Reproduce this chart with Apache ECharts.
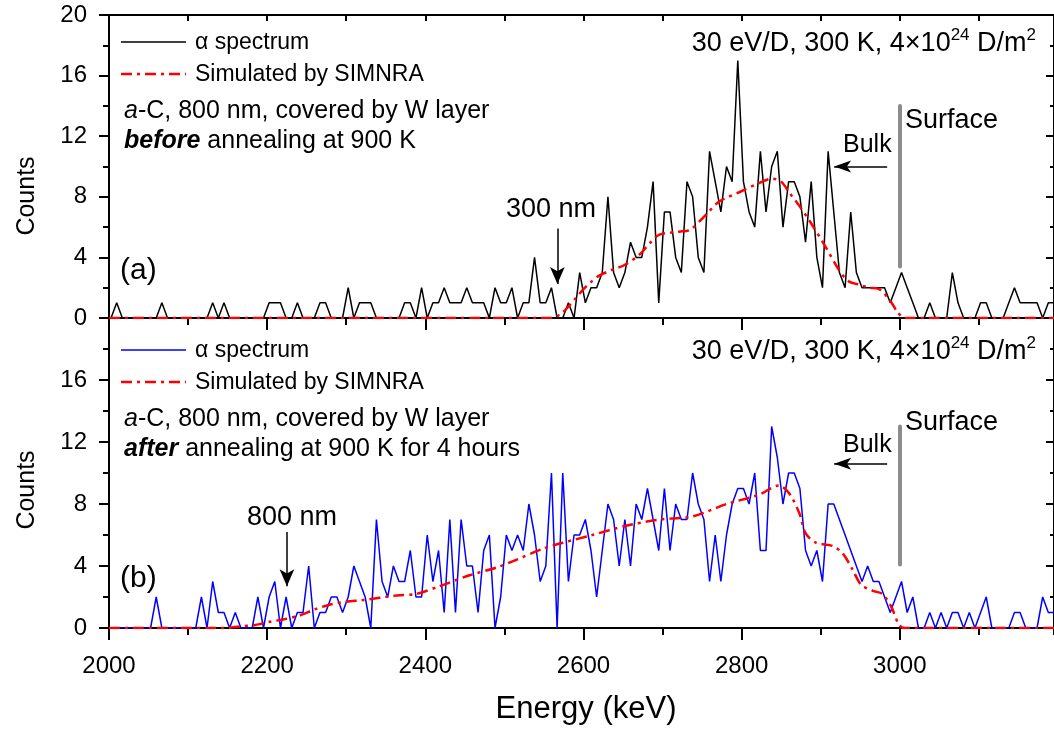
<!DOCTYPE html>
<html>
<head>
<meta charset="utf-8">
<script src="https://cdn.jsdelivr.net/npm/echarts@6/dist/echarts.min.js"></script>
<style>
  html, body { margin: 0; background: #fff; }
  #chart { width: 1054px; height: 731px; }
</style>
</head>
<body>
<div id="chart"></div>
<script>
// spectrum calibration: energy of channel i = channelStart + i * channelWidth (keV)
const channelStart = 2002.6
const channelWidth = 7.14

// (a) before annealing, counts per channel
const countsBefore = [
  0, 1, 0, 0, 0, 0, 0, 0, 0, 1,
  0, 0, 0, 0, 0, 0, 0, 0, 1, 0,
  1, 0, 0, 0, 0, 0, 0, 0, 1, 1,
  1, 0, 0, 1, 0, 0, 0, 1, 1, 0,
  0, 0, 2, 0, 1, 1, 1, 0, 0, 0,
  0, 0, 1, 1, 0, 2, 0, 1, 1, 2,
  1, 1, 1, 2, 1, 1, 1, 0, 2, 1,
  1, 2, 0, 1, 1, 4, 1, 1, 2, 0,
  0, 1, 0, 3, 1, 2, 2, 3, 8, 3,
  2, 3, 5, 4, 4, 6, 9, 1, 7, 7,
  4, 3, 9, 8, 4, 3, 11, 9, 7, 10,
  9, 17, 9, 7, 6, 11, 7, 10, 11, 6,
  9, 9, 8, 5, 9, 4, 2, 11, 7, 3,
  2, 7, 3, 2, 2, 2, 2, 2, 1, 2,
  3, 2, 1, 0, 0, 1, 0, 0, 0, 3,
  1, 0, 0, 0, 1, 1, 0, 0, 0, 1,
  2, 1, 1, 1, 1, 0, 1, 1
]

// (b) after annealing, counts per channel
const countsAfter = [
  0, 0, 0, 0, 0, 0, 0, 0, 2, 0,
  0, 0, 0, 0, 0, 0, 2, 0, 3, 1,
  1, 0, 1, 0, 0, 0, 2, 0, 2, 3,
  0, 2, 0, 1, 1, 4, 0, 1, 1, 2,
  2, 1, 2, 4, 3, 2, 0, 7, 3, 2,
  4, 3, 3, 5, 2, 2, 6, 3, 5, 1,
  7, 1, 7, 4, 4, 1, 5, 6, 0, 2,
  6, 5, 6, 5, 8, 6, 3, 4, 10, 0,
  10, 3, 6, 6, 7, 5, 2, 5, 8, 7,
  4, 7, 4, 8, 7, 9, 7, 5, 9, 5,
  8, 7, 7, 10, 8, 7, 3, 6, 3, 6,
  8, 9, 9, 8, 10, 5, 5, 13, 11, 8,
  10, 10, 9, 5, 4, 5, 3, 8, 8, 7,
  6, 5, 4, 3, 4, 3, 3, 2, 1, 2,
  3, 1, 2, 0, 0, 1, 0, 1, 0, 1,
  1, 0, 1, 0, 1, 2, 0, 0, 0, 0,
  1, 1, 0, 0, 0, 2, 1, 1
]

// SIMNRA simulations
const simBeforeEnergy = [2000, 2560, 2572, 2580, 2590, 2600, 2610, 2620, 2637, 2652, 2671, 2685, 2696, 2721, 2734, 2747, 2760, 2772, 2797, 2822, 2839, 2850, 2860, 2873, 2886, 2905, 2924, 2936, 2949, 2961, 2974, 2987, 2997, 3006, 3195]
const simBeforeCounts = [0, 0, 0.3, 0.7, 1.3, 1.9, 2.4, 2.8, 3.2, 3.5, 4.2, 5.0, 5.5, 5.7, 5.8, 6.4, 7.1, 7.7, 8.3, 8.9, 9.2, 9.0, 8.3, 7.4, 6.4, 4.8, 3.1, 2.4, 2.2, 2.0, 1.9, 1.2, 0.4, 0, 0]
const simAfterEnergy = [2000, 2150, 2165, 2185, 2203, 2220, 2241, 2260, 2279, 2300, 2321, 2364, 2389, 2418, 2456, 2490, 2515, 2548, 2574, 2611, 2654, 2696, 2738, 2781, 2822, 2847, 2860, 2873, 2881, 2894, 2915, 2928, 2940, 2951, 2966, 2978, 2989, 2999, 3006, 3195]
const simAfterCounts = [0, 0, 0.1, 0.2, 0.4, 0.55, 0.8, 1.2, 1.5, 1.7, 1.8, 2.1, 2.2, 2.7, 3.4, 3.9, 4.4, 5.1, 5.5, 6.0, 6.6, 7.0, 7.2, 8.0, 8.6, 9.2, 8.7, 7.4, 6.1, 5.5, 5.3, 4.8, 3.8, 2.8, 2.4, 2.2, 1.4, 0.2, 0, 0]

const energyMin = 2000
const energyMax = 3195
const countsMax = 20

const FONT = '"Liberation Sans", Arial, Helvetica, sans-serif'

function spectrum(counts) {
  return counts.map((c, i) => [channelStart + i * channelWidth, c])
}
function pairs(xs, ys) {
  return xs.map((x, i) => [x, ys[i]])
}

function txt(x, y, text, size, extra) {
  return {
    type: 'text',
    x: x,
    y: y,
    silent: true,
    style: Object.assign({
      text: text,
      fontSize: size,
      fontFamily: FONT,
      fill: '#000',
      verticalAlign: 'middle'
    }, extra || {})
  }
}

function richTok(size, style, weight) {
  return { fontSize: size, fontFamily: FONT, fontStyle: style || 'normal', fontWeight: weight || 'normal', fill: '#000' }
}

function richSet(size) {
  return {
    i: richTok(size, 'italic'),
    bi: richTok(size, 'italic', 'bold'),
    sup: Object.assign(richTok(Math.round(size * 0.63)), { verticalAlign: 'top' })
  }
}

function legendLine(y, color, dash) {
  return {
    type: 'line',
    silent: true,
    shape: { x1: 121, y1: y, x2: 186, y2: y },
    style: { stroke: color, lineWidth: dash ? 2.5 : 1.5, lineDash: dash || null }
  }
}

const redDash = [11, 5, 3, 5]

function panelText(dy, p) {
  return [
    legendLine(42 + dy, p.lineColor),
    txt(195, 43 + dy, 'α spectrum', 23),
    legendLine(74 + dy, '#ff0000', redDash),
    txt(195, 75 + dy, 'Simulated by SIMNRA', 23),
    txt(124, 111 + dy, '{i|a}-C, 800 nm, covered by W layer', 25, { rich: richSet(25) }),
    txt(124, 141 + dy, '{bi|' + p.stateWord + '} ' + p.stateRest, 25, { rich: richSet(25) }),
    txt(1036, 44 + dy, '30 eV/D, 300 K, 4×10{sup|24} D/m{sup|2}', 27, { rich: richSet(27), align: 'right', lineHeight: 35 }),
    txt(905, p.surfaceY, 'Surface', 27),
    txt(843, p.bulkY, 'Bulk', 25),
    txt(p.arrowLabelX, 210 + dy, p.arrowLabel, 27, { align: 'center' }),
    txt(120, 271 + dy, p.tag, 30)
  ]
}

function arrow(x1, y1, x2, y2, size) {
  return [
    { coord: [x1, y1], symbol: 'none' },
    { coord: [x2, y2], symbol: 'arrow', symbolSize: size }
  ]
}

const axisBlack = { lineStyle: { color: '#000', width: 2 } }

function xAxisFor(grid, position, interval, tickLen, inside, showLabel, showLine) {
  return {
    type: 'value',
    gridIndex: grid,
    position: position,
    min: energyMin,
    max: energyMax,
    interval: interval,
    axisLine: Object.assign({ show: showLine, onZero: false }, axisBlack),
    axisTick: { show: true, inside: inside, length: tickLen, lineStyle: { color: '#000', width: 2 } },
    axisLabel: {
      show: showLabel, showMaxLabel: false, color: '#000', fontSize: 24, fontFamily: FONT, margin: 26,
      formatter: v => String(v)
    },
    splitLine: { show: false }
  }
}

function yAxisFor(grid, position, showLabel, showMax) {
  const left = position === 'left'
  return {
    type: 'value',
    gridIndex: grid,
    position: position,
    min: 0,
    max: countsMax,
    interval: 4,
    axisLine: Object.assign({ show: true, onZero: false }, axisBlack),
    axisTick: { show: true, inside: !left, length: left ? 10 : 8, lineStyle: { color: '#000', width: 2 } },
    minorTick: { show: true, splitNumber: 2, length: left ? 6 : 4, lineStyle: { color: '#000', width: 2 } },
    axisLabel: {
      show: showLabel, showMaxLabel: showMax, color: '#000', fontSize: 24, fontFamily: FONT, margin: 22,
      formatter: v => String(v)
    },
    splitLine: { show: false }
  }
}

const chart = echarts.init(document.getElementById('chart'))

chart.setOption({
  animation: false,
  backgroundColor: '#fff',
  grid: [
    { left: 109, right: -1, top: 15, height: 303 },
    { left: 109, right: -1, top: 318, height: 310 }
  ],
  xAxis: [
    xAxisFor(0, 'bottom', 200, 12, false, false, true),
    xAxisFor(0, 'bottom', 100, 7, false, false, false),
    xAxisFor(0, 'top', 100, 6, true, false, true),
    xAxisFor(1, 'bottom', 200, 12, false, true, true),
    xAxisFor(1, 'bottom', 100, 7, false, false, false)
  ],
  yAxis: [
    yAxisFor(0, 'left', true, true),
    yAxisFor(0, 'right', false, true),
    yAxisFor(1, 'left', true, false),
    yAxisFor(1, 'right', false, false)
  ],
  series: [
    {
      name: 'α spectrum (a)',
      type: 'line',
      xAxisIndex: 0,
      yAxisIndex: 0,
      data: spectrum(countsBefore),
      symbol: 'none',
      lineStyle: { color: '#000', width: 1.5 },
      silent: true,
      markLine: {
        silent: true,
        animation: false,
        label: { show: false },
        data: [
          [{ coord: [3000, 3.4], symbol: 'none', lineStyle: { color: '#8c8c8c', width: 4, cap: 'round' } },
           { coord: [3000, 14.0], symbol: 'none' }],
          arrow(2984, 10.0, 2917, 10.0, [9, 17]),
          arrow(2567, 5.9, 2567, 2.25, [11, 17])
        ],
        lineStyle: { color: '#000', width: 1.5, type: 'solid' }
      }
    },
    {
      name: 'Simulated by SIMNRA (a)',
      type: 'line',
      xAxisIndex: 0,
      yAxisIndex: 0,
      data: pairs(simBeforeEnergy, simBeforeCounts),
      symbol: 'none',
      smooth: 0.3,
      lineStyle: { color: '#ff0000', width: 2.5, type: redDash },
      silent: true
    },
    {
      name: 'α spectrum (b)',
      type: 'line',
      xAxisIndex: 3,
      yAxisIndex: 2,
      data: spectrum(countsAfter),
      symbol: 'none',
      lineStyle: { color: '#0000ff', width: 1.5 },
      silent: true,
      markLine: {
        silent: true,
        animation: false,
        label: { show: false },
        data: [
          [{ coord: [3000, 4.1], symbol: 'none', lineStyle: { color: '#8c8c8c', width: 4, cap: 'round' } },
           { coord: [3000, 13.0], symbol: 'none' }],
          arrow(2984, 10.6, 2917, 10.6, [9, 17]),
          arrow(2225, 6.2, 2225, 2.7, [11, 17])
        ],
        lineStyle: { color: '#000', width: 1.5, type: 'solid' }
      }
    },
    {
      name: 'Simulated by SIMNRA (b)',
      type: 'line',
      xAxisIndex: 3,
      yAxisIndex: 2,
      data: pairs(simAfterEnergy, simAfterCounts),
      symbol: 'none',
      smooth: 0.3,
      lineStyle: { color: '#ff0000', width: 2.5, type: redDash },
      silent: true
    }
  ],
  graphic: [].concat(
    panelText(0, {
      lineColor: '#000', stateWord: 'before', stateRest: 'annealing at 900 K',
      arrowLabel: '300 nm', arrowLabelX: 551, tag: '(a)', surfaceY: 121, bulkY: 145
    }),
    panelText(308, {
      lineColor: '#0000ff', stateWord: 'after', stateRest: 'annealing at 900 K for 4 hours',
      arrowLabel: '800 nm', arrowLabelX: 292, tag: '(b)', surfaceY: 423, bulkY: 445
    }),
    [
      Object.assign(txt(27, 196, 'Counts', 25, { align: 'center' }), { rotation: Math.PI / 2 }),
      Object.assign(txt(27, 490, 'Counts', 25, { align: 'center' }), { rotation: Math.PI / 2 }),
      txt(586, 709, 'Energy (keV)', 31, { align: 'center' })
    ]
  )
})
</script>
</body>
</html>
